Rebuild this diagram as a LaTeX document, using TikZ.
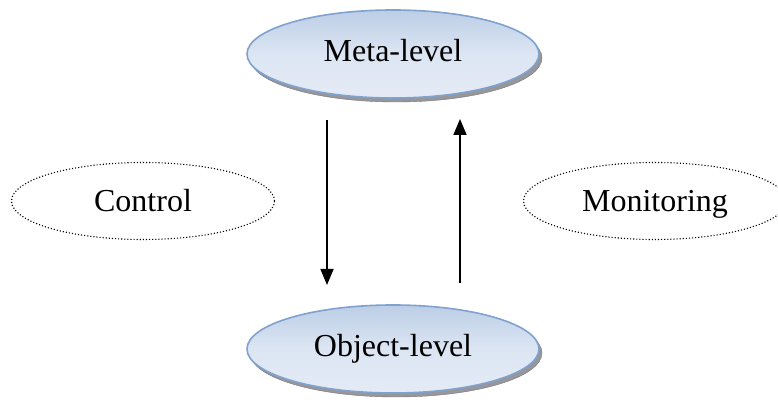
\documentclass[tikz,border=0pt]{standalone}
\usepackage{fontspec}
\setmainfont{Liberation Serif}
\usetikzlibrary{shapes.geometric,arrows.meta}
\definecolor{edgeblue}{RGB}{128,162,206}
\definecolor{topblue}{RGB}{188,206,230}
\definecolor{botblue}{RGB}{228,235,246}
\definecolor{rimgray}{RGB}{150,150,155}
\tikzset{
  level/.style={ellipse, draw=edgeblue, line width=1.6pt, top color=topblue, bottom color=botblue, middle color=botblue!80!topblue,
    minimum width=292pt, minimum height=88pt, inner sep=0pt, font=\fontsize{32}{36}\selectfont, text height=22pt, text depth=7pt},
  rim/.style={ellipse, fill=rimgray, draw=rimgray!80!black, line width=0.4pt, minimum width=292pt, minimum height=88pt, inner sep=0pt},
  label/.style={ellipse, draw=black, dotted, line width=1.1pt, minimum width=263pt, minimum height=77pt, inner sep=0pt, font=\fontsize{32}{36}\selectfont, text height=25pt, text depth=3pt},
  flow/.style={line width=1.6pt, -{Triangle[width=13pt,length=16pt]}}
}
\begin{document}
\begin{tikzpicture}[x=1pt,y=1pt]
\useasboundingbox (0,0) rectangle (778,403);
\clip (0,0) rectangle (778,403);
% rims
\node[rim] (metarim) at (396,345) {};
\node[rim] (objrim) at (396,50) {};
% levels
\node[level] (meta) at (393,349) {Meta-level};
\node[level] (obj) at (393,54) {Object-level};
% dotted labels
\node[label] (control) at (143,202) {Control};
\node[label] (monitor) at (655,202) {Monitoring};
% arrow endpoints
\coordinate (dtop) at (327,283);
\coordinate (dbot) at (327,118);
\coordinate (ubot) at (460,120);
\coordinate (utop) at (460,284);
\draw[flow] (dtop) -- (dbot);
\draw[flow] (ubot) -- (utop);
\end{tikzpicture}
\end{document}
